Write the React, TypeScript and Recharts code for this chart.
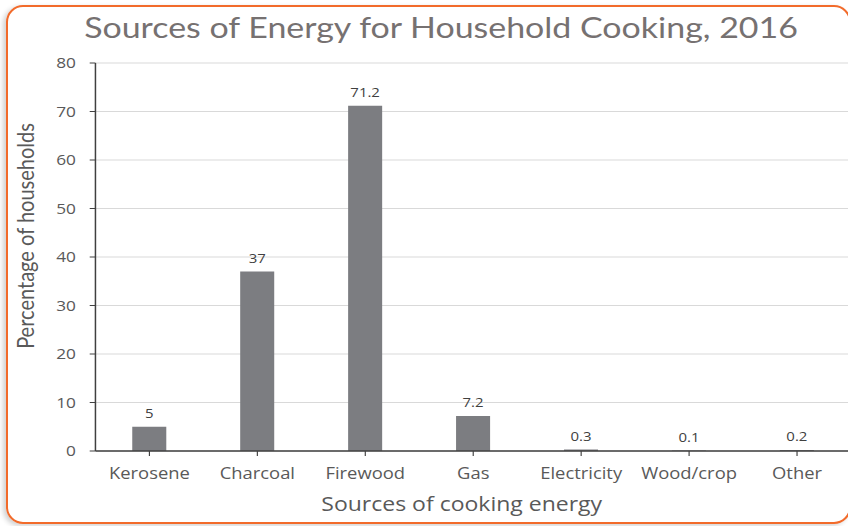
import React from "react";
import { BarChart, Bar, XAxis, YAxis, CartesianGrid, LabelList, Label } from "recharts";

const categories = ["Kerosene", "Charcoal", "Firewood", "Gas", "Electricity", "Wood/crop", "Other"];
const shares = [5, 37, 71.2, 7.2, 0.3, 0.1, 0.2];
const yTicks = [0, 10, 20, 30, 40, 50, 60, 70, 80];

const data = categories.map((name, i) => ({ name, value: shares[i] }));

// the whole figure is drawn slightly wide, like the exported original
const STRETCH = 1.15;
const W = 767;
const H = 526;

const tickFont = "'Open Sans', sans-serif";

const App: React.FC = () => {
    return (
        <div style={{ position: "fixed", left: 0, top: 0, width: 848, height: 526, overflow: "hidden", background: "#fff" }}>
            <div
                style={{
                    position: "absolute",
                    left: 6,
                    top: 5,
                    width: 845,
                    height: 519,
                    boxSizing: "border-box",
                    border: "2.5px solid #f26b2b",
                    borderRadius: 17,
                    boxShadow: "-3px 2px 5px rgba(0,0,0,0.18)",
                }}
            />
            <div
                style={{
                    position: "absolute",
                    left: 0,
                    top: 0,
                    width: W,
                    height: H,
                    transform: `scaleX(${STRETCH})`,
                    transformOrigin: "0 0",
                }}
            >
                <div
                    style={{
                        position: "absolute",
                        left: 0,
                        top: 12,
                        width: W,
                        textAlign: "center",
                        fontFamily: "Lato, sans-serif",
                        fontSize: 29.5,
                        lineHeight: "29.5px",
                        color: "#767171",
                        whiteSpace: "nowrap",
                    }}
                >
                    Sources of Energy for Household Cooking, 2016
                </div>
                <div
                    style={{
                        position: "absolute",
                        left: 21.7,
                        top: 236,
                        transform: "translate(-50%, -50%) rotate(-90deg)",
                        fontFamily: "Lato, sans-serif",
                        fontSize: 20,
                        lineHeight: "20px",
                        color: "#595959",
                        whiteSpace: "nowrap",
                    }}
                >
                    Percentage of households
                </div>
                <BarChart width={760} height={H} data={data} margin={{ top: 63, right: 20, bottom: 0, left: 0 }}>
                    <CartesianGrid vertical={false} stroke="#d9d9d9" />
                    <XAxis
                        dataKey="name"
                        height={75}
                        tickSize={5}
                        tickMargin={12}
                        axisLine={{ stroke: "#404040", strokeWidth: 1.3 }}
                        tickLine={{ stroke: "#404040" }}
                        tick={{ fill: "#595959", fontSize: 16, fontFamily: tickFont }}
                        interval={0}
                    >
                        <Label
                            value="Sources of cooking energy"
                            position="insideBottom"
                            offset={15}
                            dx={-10}
                            fill="#595959"
                            fontSize={20}
                            fontFamily={tickFont}
                        />
                    </XAxis>
                    <YAxis
                        width={83}
                        domain={[0, 80]}
                        ticks={yTicks}
                        tickSize={5}
                        tickMargin={12}
                        axisLine={{ stroke: "#404040", strokeWidth: 1.3 }}
                        tickLine={{ stroke: "#404040" }}
                        tick={{ fill: "#595959", fontSize: 15, fontFamily: tickFont }}
                    />
                    <Bar dataKey="value" fill="#7c7d81" barSize={29.6} isAnimationActive={false}>
                        <LabelList
                            dataKey="value"
                            position="top"
                            offset={9}
                            fill="#404040"
                            fontSize={13}
                            fontFamily={tickFont}
                        />
                    </Bar>
                </BarChart>
            </div>
        </div>
    );
};

export default App;
